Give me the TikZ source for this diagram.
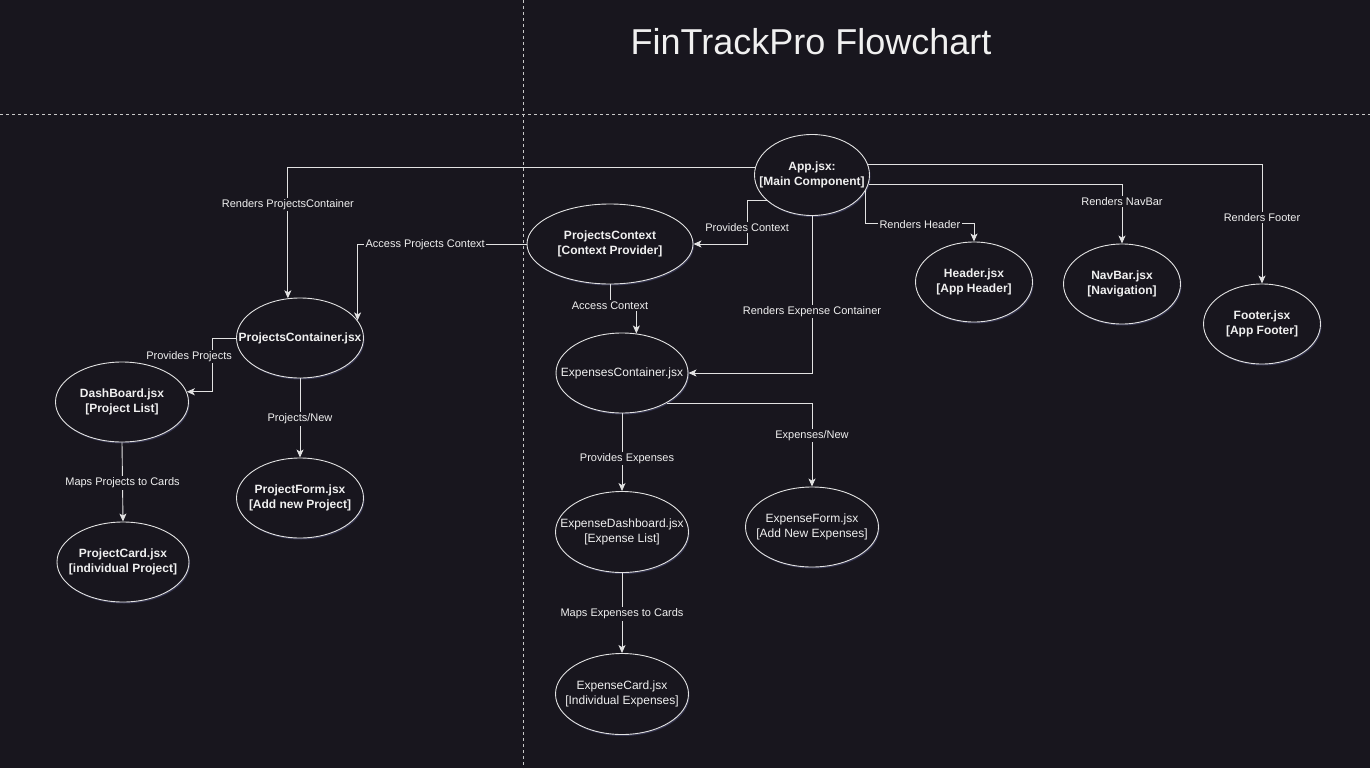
\documentclass[tikz,border=0pt]{standalone}
\usepackage{fontspec}
\setmainfont{Liberation Sans}
\usetikzlibrary{arrows.meta,positioning,shapes.geometric,shadows}
\definecolor{canvas}{HTML}{18161E}
\definecolor{ink}{HTML}{F0F0F0}
\definecolor{wire}{HTML}{E2E2E2}
\definecolor{guideline}{HTML}{C8C8C8}
\definecolor{haze}{HTML}{3C3C5A}

\begin{document}
\begin{tikzpicture}[x=1pt, y=-1pt,
  comp/.style={ellipse, draw=wire, line width=0.9pt, fill=canvas, text=ink, inner xsep=-25pt, inner ysep=0pt, minimum width=117pt, minimum height=80pt, align=center, font=\fontsize{12}{15}\selectfont\bfseries,
    drop shadow={shadow xshift=1pt, shadow yshift=-1.5pt, fill=haze, opacity=0.8}},
  plaincomp/.style={comp, font=\fontsize{12}{15}\selectfont},
  flow/.style={-{Stealth[length=8pt, width=7pt, inset=2pt]}, draw=wire, line width=0.9pt},
  elabel/.style={fill=canvas, text=ink, inner sep=1.5pt, yshift=-1pt, font=\fontsize{11}{13}\selectfont},
  divider/.style={draw=guideline, line width=0.7pt, dash pattern=on 3pt off 3pt},
  title/.style={text=ink, font=\fontsize{36}{40}\selectfont},
]

% ─── Canvas and dividers ───
\fill[canvas] (0,0) rectangle (1370,768);
\useasboundingbox (0,0) rectangle (1370,768);
\draw[divider] (0,114) -- (1370,114);
\draw[divider] (523,0) -- (523,768);

\node[title] (head) at (811,42) {FinTrackPro Flowchart};

% ─── Top level ───
\node[comp, minimum width=115pt, minimum height=81pt] (app) at (812,175) {App.jsx:\\{[Main Component]}};
\node[comp] (header) at (974,282) {Header.jsx\\{[App Header]}};
\node[comp] (navbar) at (1122,284) {NavBar.jsx\\{[Navigation]}};
\node[comp] (footer) at (1262,324) {Footer.jsx\\{[App Footer]}};
\node[comp, minimum width=166pt] (projctx) at (610,244) {ProjectsContext\\{[Context Provider]}};

% ─── Projects branch ───
\node[comp, minimum width=127pt] (projcont) at (300,338) {ProjectsContainer.jsx};
\node[comp, minimum width=133pt] (dash) at (122,402) {DashBoard.jsx\\{[Project List]}};
\node[comp, minimum width=127pt] (projform) at (300,498) {ProjectForm.jsx\\{[Add new Project]}};
\node[comp, minimum width=132pt] (projcard) at (123,562) {ProjectCard.jsx\\{[individual Project]}};

% ─── Expenses branch ───
\node[plaincomp, minimum width=132pt] (expcont) at (622,373) {ExpensesContainer.jsx};
\node[plaincomp, minimum width=133pt, minimum height=81pt] (expdash) at (622,532) {ExpenseDashboard.jsx\\{[Expense List]}};
\node[plaincomp, minimum width=133pt] (expform) at (812,527) {ExpenseForm.jsx\\{[Add New Expenses]}};
\node[plaincomp, minimum width=133pt, minimum height=81pt] (expcard) at (622,694) {ExpenseCard.jsx\\{[Individual Expenses]}};

% ─── Connectors from App ───
\draw[flow] (app.172) -| node[elabel, pos=0.64] {Renders ProjectsContainer} (projcont.107);
\draw[flow] (app.210) -- ++(-20,0) |- node[elabel, pos=0.3] {Provides Context} (projctx.east);
\draw[flow] (app.south) |- node[elabel, pos=0.3] {Renders Expense Container} (expcont.east);
\draw[flow] (app.-16.5) -- ++(0,33) -| node[elabel, pos=0.25] {Renders Header} (header.north);
\draw[flow] (app.-9) -| node[elabel, pos=0.64] {Renders NavBar} (navbar.north);
\draw[flow] (app.11) -| node[elabel, pos=0.72] {Renders Footer} (footer.north);

% ─── Context connectors ───
\draw[flow] (projctx.west) -| node[elabel, pos=0.3] {Access Projects Context} (projcont.17);
\draw[flow] (projctx.south) -- ++(0,20) node[elabel] {Access Context} -| (expcont.70);

% ─── Projects connectors ───
\draw[flow] (projcont.west) -- ++(-24,0) |- node[elabel, pos=0.16, xshift=-23pt] {Provides Projects} (dash.9);
\draw[flow] (projcont.south) -- node[elabel] {Projects/New} (projform.north);
\draw[flow] (dash.south) -- node[elabel] {Maps Projects to Cards} (projcard.north);

% ─── Expenses connectors ───
\draw[flow] (expcont.-34) -| node[elabel, pos=0.69] {Expenses/New} (expform.north);
\draw[flow] (expcont.south) -- node[elabel, pos=0.57, xshift=5pt] {Provides Expenses} (expdash.north);
\draw[flow] (expdash.south) -- node[elabel] {Maps Expenses to Cards} (expcard.north);

\end{tikzpicture}
\end{document}
